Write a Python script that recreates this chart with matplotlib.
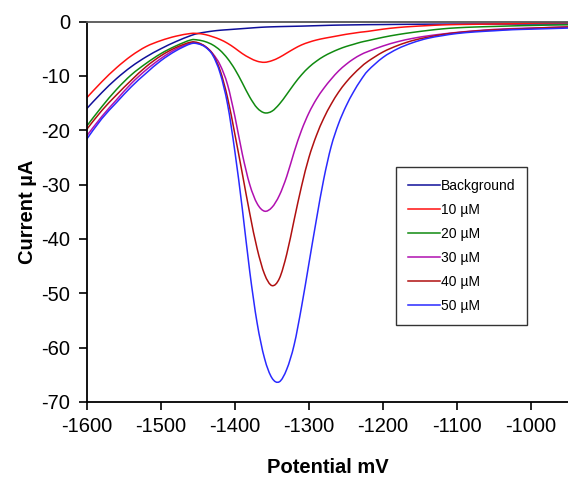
import matplotlib
matplotlib.use("Agg")
import matplotlib.pyplot as plt
from matplotlib.path import Path
from matplotlib.patches import PathPatch
from matplotlib.lines import Line2D

plt.rcParams["font.family"] = ["Liberation Sans", "DejaVu Sans"]
plt.rcParams["axes.unicode_minus"] = False

# Potential (mV) sample grid shared by all scans
potential = [-1600, -1580, -1560, -1540, -1520, -1500, -1480, -1460, -1450, -1440,
             -1430, -1420, -1410, -1400, -1390, -1380, -1370, -1360, -1350, -1340,
             -1330, -1320, -1310, -1300, -1290, -1280, -1270, -1260, -1250, -1240,
             -1230, -1220, -1200, -1180, -1160, -1140, -1120, -1100, -1075, -1050,
             -1025, -1000, -975, -950]

# Current (µA) for each scan
background = [-16.0, -13.1, -10.5, -8.3, -6.5, -5.0, -3.7, -2.6, -2.2, -1.95,
              -1.75, -1.6, -1.5, -1.4, -1.3, -1.2, -1.1, -1.02, -0.97, -0.93,
              -0.9, -0.87, -0.84, -0.8, -0.76, -0.72, -0.68, -0.65, -0.63, -0.61,
              -0.59, -0.57, -0.55, -0.52, -0.5, -0.48, -0.47, -0.46, -0.45, -0.45,
              -0.45, -0.45, -0.45, -0.45]
c10 = [-14.0, -11.1, -8.5, -6.3, -4.6, -3.5, -2.7, -2.2, -2.2, -2.4,
       -2.8, -3.3, -4.0, -4.9, -5.9, -6.7, -7.3, -7.5, -7.2, -6.6,
       -5.8, -5.0, -4.3, -3.8, -3.4, -3.1, -2.85, -2.6, -2.35, -2.15,
       -1.95, -1.8, -1.4, -1.1, -0.9, -0.75, -0.62, -0.55, -0.5, -0.45,
       -0.4, -0.3, -0.25, -0.2]
c20 = [-19.2, -15.7, -12.5, -9.8, -7.7, -5.9, -4.5, -3.4, -3.4, -3.7,
       -4.3, -5.3, -6.8, -8.8, -11.3, -13.9, -15.9, -16.8, -16.5, -15.2,
       -13.4, -11.5, -9.8, -8.4, -7.3, -6.4, -5.7, -5.1, -4.6, -4.2,
       -3.8, -3.5, -2.9, -2.4, -2.0, -1.65, -1.35, -1.15, -1.0, -0.9,
       -0.8, -0.72, -0.65, -0.6]
c30 = [-21.0, -17.5, -14.4, -11.4, -8.9, -6.8, -5.1, -4.0, -4.0, -4.6,
       -5.9, -8.0, -11.6, -17.5, -24.4, -30.0, -33.5, -34.9, -34.2, -32.0,
       -28.5, -24.0, -20.0, -16.8, -14.3, -12.3, -10.6, -9.1, -7.9, -6.9,
       -6.1, -5.5, -4.5, -3.7, -3.1, -2.65, -2.3, -2.0, -1.7, -1.45,
       -1.3, -1.2, -1.1, -1.0]
c40 = [-19.8, -16.4, -13.5, -10.8, -8.3, -6.3, -4.8, -3.8, -3.9, -4.6,
       -6.0, -9.0, -14.0, -20.8, -28.0, -35.3, -41.8, -46.5, -48.6, -47.3,
       -42.8, -36.5, -30.3, -25.0, -21.0, -17.8, -15.2, -13.0, -11.2, -9.7,
       -8.4, -7.3, -5.6, -4.4, -3.5, -2.9, -2.4, -2.05, -1.75, -1.55,
       -1.4, -1.25, -1.1, -1.0]
c50 = [-21.6, -17.9, -14.9, -12.0, -9.5, -7.2, -5.4, -4.1, -4.1, -4.7,
       -6.2, -9.5, -15.2, -24.0, -34.5, -46.0, -55.5, -62.0, -65.6, -66.3,
       -64.0, -59.5, -52.5, -44.5, -36.5, -29.0, -23.0, -18.8, -15.6, -13.0,
       -10.8, -9.0, -6.6, -5.0, -3.9, -3.1, -2.6, -2.2, -1.9, -1.7,
       -1.5, -1.4, -1.3, -1.2]

labels = ["Background", "10 µM", "20 µM", "30 µM", "40 µM", "50 µM"]
colors = ["#10109a", "#ff1010", "#108a10", "#b010b0", "#b01010", "#2a2aff"]
series = [background, c10, c20, c30, c40, c50]

x_ticks = [-1600, -1500, -1400, -1300, -1200, -1100, -1000]
y_ticks = [0, -10, -20, -30, -40, -50, -60, -70]


def smoothed_path(xs, ys):
    """Smoothed line through the samples (Catmull-Rom as cubic Bezier)."""
    n = len(xs)
    pts = list(zip(xs, ys))
    verts = [pts[0]]
    codes = [Path.MOVETO]
    for i in range(n - 1):
        p0 = pts[i - 1] if i > 0 else pts[i]
        p1 = pts[i]
        p2 = pts[i + 1]
        p3 = pts[i + 2] if i + 2 < n else pts[i + 1]
        c1 = (p1[0] + (p2[0] - p0[0]) / 6.0, p1[1] + (p2[1] - p0[1]) / 6.0)
        c2 = (p2[0] - (p3[0] - p1[0]) / 6.0, p2[1] - (p3[1] - p1[1]) / 6.0)
        verts += [c1, c2, p2]
        codes += [Path.CURVE4] * 3
    return Path(verts, codes)


fig = plt.figure(figsize=(5.68, 4.79), dpi=100)
ax = fig.add_axes([0.153, 0.161, 0.847, 0.794])

handles = []
for ys, lab, col in zip(series, labels, colors):
    patch = PathPatch(smoothed_path(potential, ys), facecolor="none",
                      edgecolor=col, lw=1.1, capstyle="round", joinstyle="round")
    patch.set_clip_on(True)
    ax.add_patch(patch)
    handles.append(Line2D([], [], color=col, lw=1.1, label=lab))

ax.set_xlim(-1600, -950)
ax.set_ylim(-70, 0)
ax.set_xticks(x_ticks)
ax.set_yticks(y_ticks)
ax.set_xticklabels([str(t) for t in x_ticks])
ax.set_yticklabels([str(t) for t in y_ticks])
ax.tick_params(direction="out", length=6, width=1.2, labelsize=14.5)
ax.tick_params(axis="x", pad=5)
ax.tick_params(axis="y", pad=6)

ax.spines["right"].set_visible(False)
for s in ["left", "bottom"]:
    ax.spines[s].set_linewidth(1.3)
ax.spines["top"].set_linewidth(1.3)
ax.spines["top"].set_color("#555555")

ax.set_xlabel("Potential mV", fontsize=14.5, fontweight="bold", labelpad=16)
ax.set_ylabel("Current µA", fontsize=14.5, fontweight="bold", labelpad=3)

leg = ax.legend(handles=handles, loc="upper left", bbox_to_anchor=(0.697, 0.651),
                bbox_transform=fig.transFigure, fontsize=10, frameon=True,
                fancybox=False, edgecolor="black", handlelength=2.3,
                handletextpad=0.1, labelspacing=0.72, borderpad=0.85,
                borderaxespad=0)
leg.get_frame().set_linewidth(1.0)

fig.savefig("out.png", dpi=100)
